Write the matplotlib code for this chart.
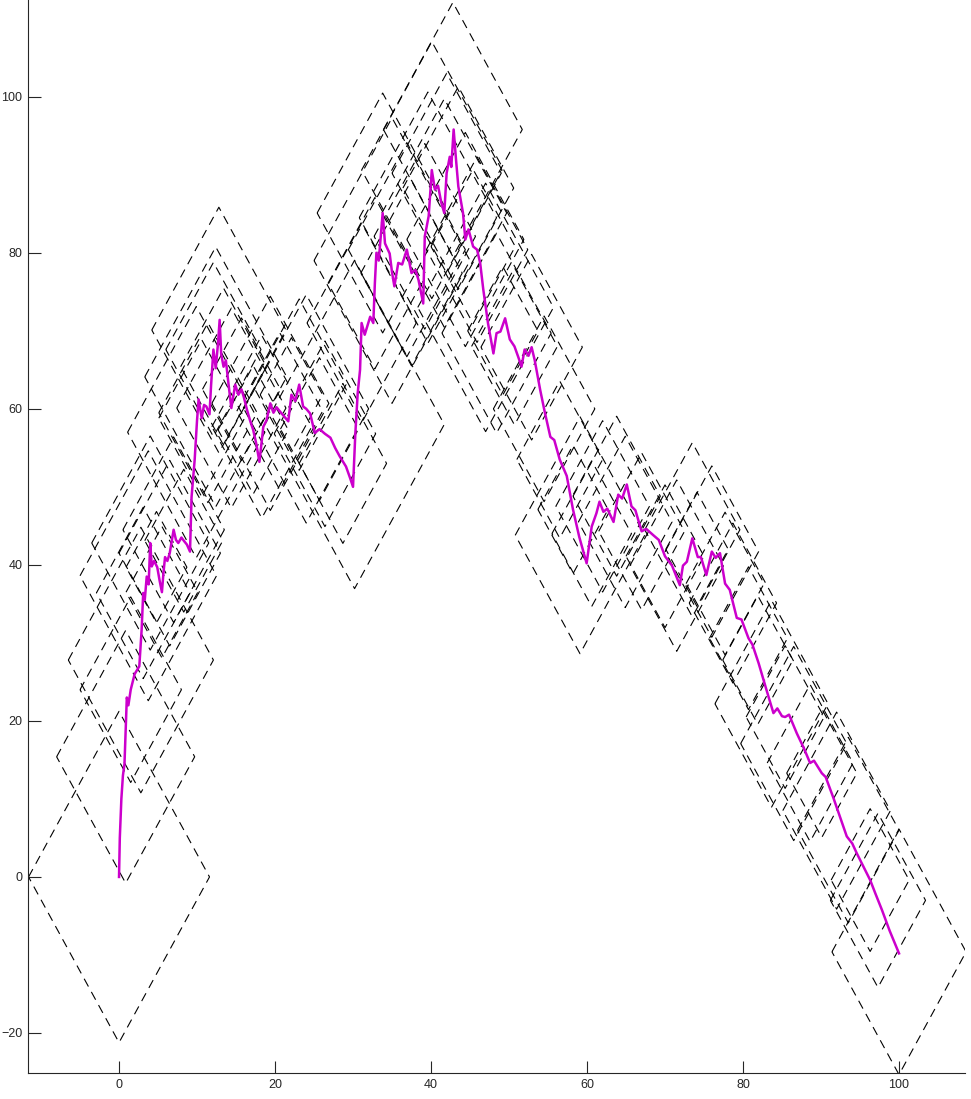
import numpy as np
import matplotlib
matplotlib.use('Agg')
import matplotlib.pyplot as plt

plt.rcParams['font.family'] = ['Liberation Sans', 'DejaVu Sans']

# path
path_x = [0, 0.1, 0.3, 0.5, 0.7, 0.9, 1.0, 1.2, 1.5, 2.0, 2.3, 2.6, 2.9, 3.1, 3.3, 3.55, 3.8, 4.0, 4.2, 4.5,
          4.9, 5.2, 5.5, 5.7, 5.9, 6.2, 6.5, 7.0, 7.3, 7.6, 8.0, 8.3, 8.7, 9.1, 9.3, 9.7, 10.0, 10.2, 10.6, 10.9,
          11.2, 11.6, 11.8, 12.1, 12.4, 12.7, 12.9, 13.1, 13.4, 13.7, 14.0, 14.4, 14.9, 15.3, 15.7, 16.0, 16.4, 16.8, 17.2, 17.6,
          18.0, 18.5, 18.9, 19.4, 19.8, 20.2, 20.6, 21.2, 21.7, 22.1, 22.6, 23.1, 23.6, 24.0, 24.5, 25.1, 25.7, 26.4, 27.1, 27.7,
          28.3, 29.1, 29.6, 30.0, 30.3, 30.6, 30.9, 31.1, 31.5, 31.8, 32.2, 32.6, 32.8, 33.0, 33.3, 33.8, 34.1, 34.7, 35.0, 35.3,
          35.8, 36.3, 36.9, 37.5, 38.0, 38.4, 39.0, 39.2, 39.7, 40.1, 40.5, 40.9, 41.3, 41.7, 42.0, 42.4, 42.6, 42.9, 43.2, 43.5,
          44.1, 44.4, 44.8, 45.4, 45.9, 46.3, 46.7, 47.3, 48.0, 48.4, 48.9, 49.5, 50.1, 50.7, 51.2, 51.6, 52.0, 52.5, 52.9, 53.3,
          54.0, 54.6, 55.3, 55.8, 56.5, 57.4, 58.2, 59.0, 59.95, 60.6, 61.2, 61.6, 62.1, 62.6, 63.4, 64.0, 64.5, 65.1, 65.7, 66.2,
          67.0, 67.6, 68.5, 69.2, 70.0, 70.9, 71.9, 72.3, 72.8, 73.5, 74.2, 74.6, 75.3, 76.0, 76.5, 77.05, 77.7, 78.3, 79.2, 79.8,
          80.7, 81.2, 82.0, 83.0, 83.9, 84.4, 85.0, 85.4, 85.9, 86.9, 87.8, 88.6, 89.1, 90.1, 90.6, 91.6, 92.5, 93.3, 94.0, 94.6,
          95.5, 96.3, 97.0, 97.8, 98.8, 100]
path_y = [0, 5, 10, 13, 14.5, 20, 23, 22, 24, 26, 26.5, 27, 31.7, 36.4, 35.5, 38.5, 37.5, 42.8, 39.8, 40.5,
          39.7, 38.0, 36.5, 39, 41.0, 40.5, 41.5, 44.5, 43.2, 42.8, 43.5, 43.1, 42.6, 41.7, 48.7, 53.5, 58.5, 61.2, 58.8, 60.5,
          60.3, 59.3, 63, 67.6, 65.2, 68.5, 71.4, 67.0, 65.4, 66.2, 63.5, 60.1, 63.1, 61.8, 62.5, 61.5, 59.9, 58.5, 57.3, 55.5,
          53.2, 57.7, 58.5, 60.7, 59.5, 60.2, 59.7, 59.0, 58.4, 61.8, 61.0, 63.1, 60.3, 60.0, 59.4, 56.9, 57.4, 56.8, 56.3, 55.0,
          53.9, 52.6, 51.2, 50.0, 56.9, 62, 65.0, 71.0, 69.5, 70.5, 71.8, 71.0, 76.1, 80.0, 79.0, 85.1, 81.2, 79.9, 77.5, 75.7,
          78.7, 78.5, 80.4, 77.4, 77.8, 76.5, 73.5, 82.1, 84.7, 90.6, 88.1, 88.6, 86.5, 85.1, 90.2, 92.3, 91.0, 95.8, 92.0, 88.5,
          85.1, 81.7, 83.0, 80.8, 80.4, 78.7, 75.3, 71.0, 67.1, 69.7, 69.9, 71.6, 68.9, 68.0, 66.6, 65.4, 67.6, 66.8, 67.9, 66.2,
          62.4, 59.5, 56.4, 56.0, 53.5, 51.4, 47.1, 43.6, 40.2, 44.9, 46.6, 48.1, 46.8, 47.2, 45.5, 49.0, 48.5, 50.3, 47.5, 47.0,
          44.3, 44.6, 43.8, 43.2, 41.1, 39.9, 37.4, 39.9, 40.4, 43.4, 41.0, 41.0, 38.7, 41.7, 40.9, 41.5, 37.6, 36.8, 33.2, 33.0,
          30.6, 29.8, 27.4, 24.0, 21.0, 21.6, 20.6, 20.5, 20.8, 18.4, 16.5, 14.6, 14.9, 13.3, 12.8, 10.1, 7.5, 5.2, 4.3, 3.0,
          1.2, -0.4, -2.2, -4.2, -6.9, -9.8]

# dashed diamonds: centre and half width
box_cx = [0, 0.85, 2.8, 3.75, 5.5, 9.9, 12.8, 12.1, 13.4, 18.3, 11.4, 4.8, 30.2, 28.7, 33.8, 42.8, 39.6, 59.1,
          100, 83.65, 97.3, 92.0, 93.5, 86.5, 81.9, 78.7, 71.5, 74.1, 54.5, 47.0, 43.5, 45.4, 49.2, 60.6,
          12.4, 35.0, 15.7, 20.6, 23.1, 25.7, 22.1, 17.2, 8.3, 6.5, 3.1, 31.1, 32.8, 37.5, 40.1, 41.7, 44.4,
          50.7, 52.9, 56.5, 58.2, 62.0, 63.8, 64.9, 67.0, 70.0, 73.5, 76.0, 77.7, 80.7, 85.4, 88.6, 90.1, 96.3,
          14.4, 19.4, 26.4, 24.0, 36.9, 39.2, 42.0, 45.9, 48.4, 10.6, 7.0, 4.0, 1.5]
box_cy = [0, 15.4, 27.8, 38.6, 36.5, 57.0, 70.1, 67.6, 65.4, 57.7, 59.5, 39.7, 58.0, 53.0, 85.1, 95.8, 84.5, 43.8,
          -9.6, 22.2, -3.0, 8.5, 6.0, 17.1, 27.8, 35.1, 39.9, 42.0, 60.0, 73.0, 88.3, 80.8, 70.0, 44.0,
          64.1, 79.0, 62.5, 59.7, 63.1, 57.4, 61.8, 57.3, 43.1, 41.5, 36.4, 71.0, 76.1, 77.4, 90.6, 85.1, 81.7,
          68.0, 67.9, 53.5, 47.1, 47.5, 48.8, 45.5, 44.3, 41.1, 44.5, 41.7, 37.6, 30.6, 20.5, 14.6, 13.3, -0.4,
          60.1, 60.7, 56.8, 60.0, 80.4, 82.1, 90.2, 80.4, 69.7, 58.8, 44.5, 42.8, 24.0]
box_r = [11.6, 8.85, 9.3, 8.75, 4.6, 8.8, 8.6, 6.1, 5.5, 6.4, 6.3, 3.9, 11.5, 5.6, 8.4, 8.9, 8.8, 8.3,
         8.6, 7.25, 6.1, 6.9, 6.5, 6.8, 4.5, 5.6, 6.0, 4.0, 6.5, 8.7, 7.1, 5.4, 4.5, 5.1,
         9.1, 10.0, 5.0, 5.5, 6.0, 5.0, 4.0, 4.5, 5.0, 6.5, 6.0, 7.0, 6.0, 6.5, 9.0, 8.0, 7.5,
         5.5, 6.5, 5.5, 4.5, 6.0, 5.6, 6.0, 5.5, 5.0, 6.1, 6.0, 5.0, 5.0, 5.0, 5.5, 4.5, 5.0,
         7.0, 7.5, 6.5, 8.0, 7.5, 6.5, 7.0, 6.5, 7.0, 5.5, 6.5, 7.5, 6.5]
slope = 1.83

fig = plt.figure(figsize=(9.71, 10.99), dpi=100)
ax = fig.add_axes([28/971, 26/1099, 937/971, 1073/1099])

# diamonds
for cx, cy, r in zip(box_cx, box_cy, box_r):
    h = slope*r
    xs = [cx-r, cx, cx+r, cx, cx-r]
    ys = [cy, cy+h, cy, cy-h, cy]
    ax.plot(xs, ys, color='black', lw=0.8, ls=(0, (8, 5.5)))

# the path itself
ax.plot(path_x, path_y, color='#cc00cc', lw=1.8)

ax.set_xlim(-11.67, 108.46)
ax.set_ylim(-25.13, 112.4)
ax.set_xticks([0, 20, 40, 60, 80, 100])
ax.set_yticks([-20, 0, 20, 40, 60, 80, 100])
ax.spines['top'].set_visible(False)
ax.spines['right'].set_visible(False)
for s in ['left', 'bottom']:
    ax.spines[s].set_color('#262626')
    ax.spines[s].set_linewidth(0.8)
ax.tick_params(direction='in', length=9, width=0.8, colors='#262626', labelsize=9, pad=4)

fig.savefig('out.png', dpi=100)
